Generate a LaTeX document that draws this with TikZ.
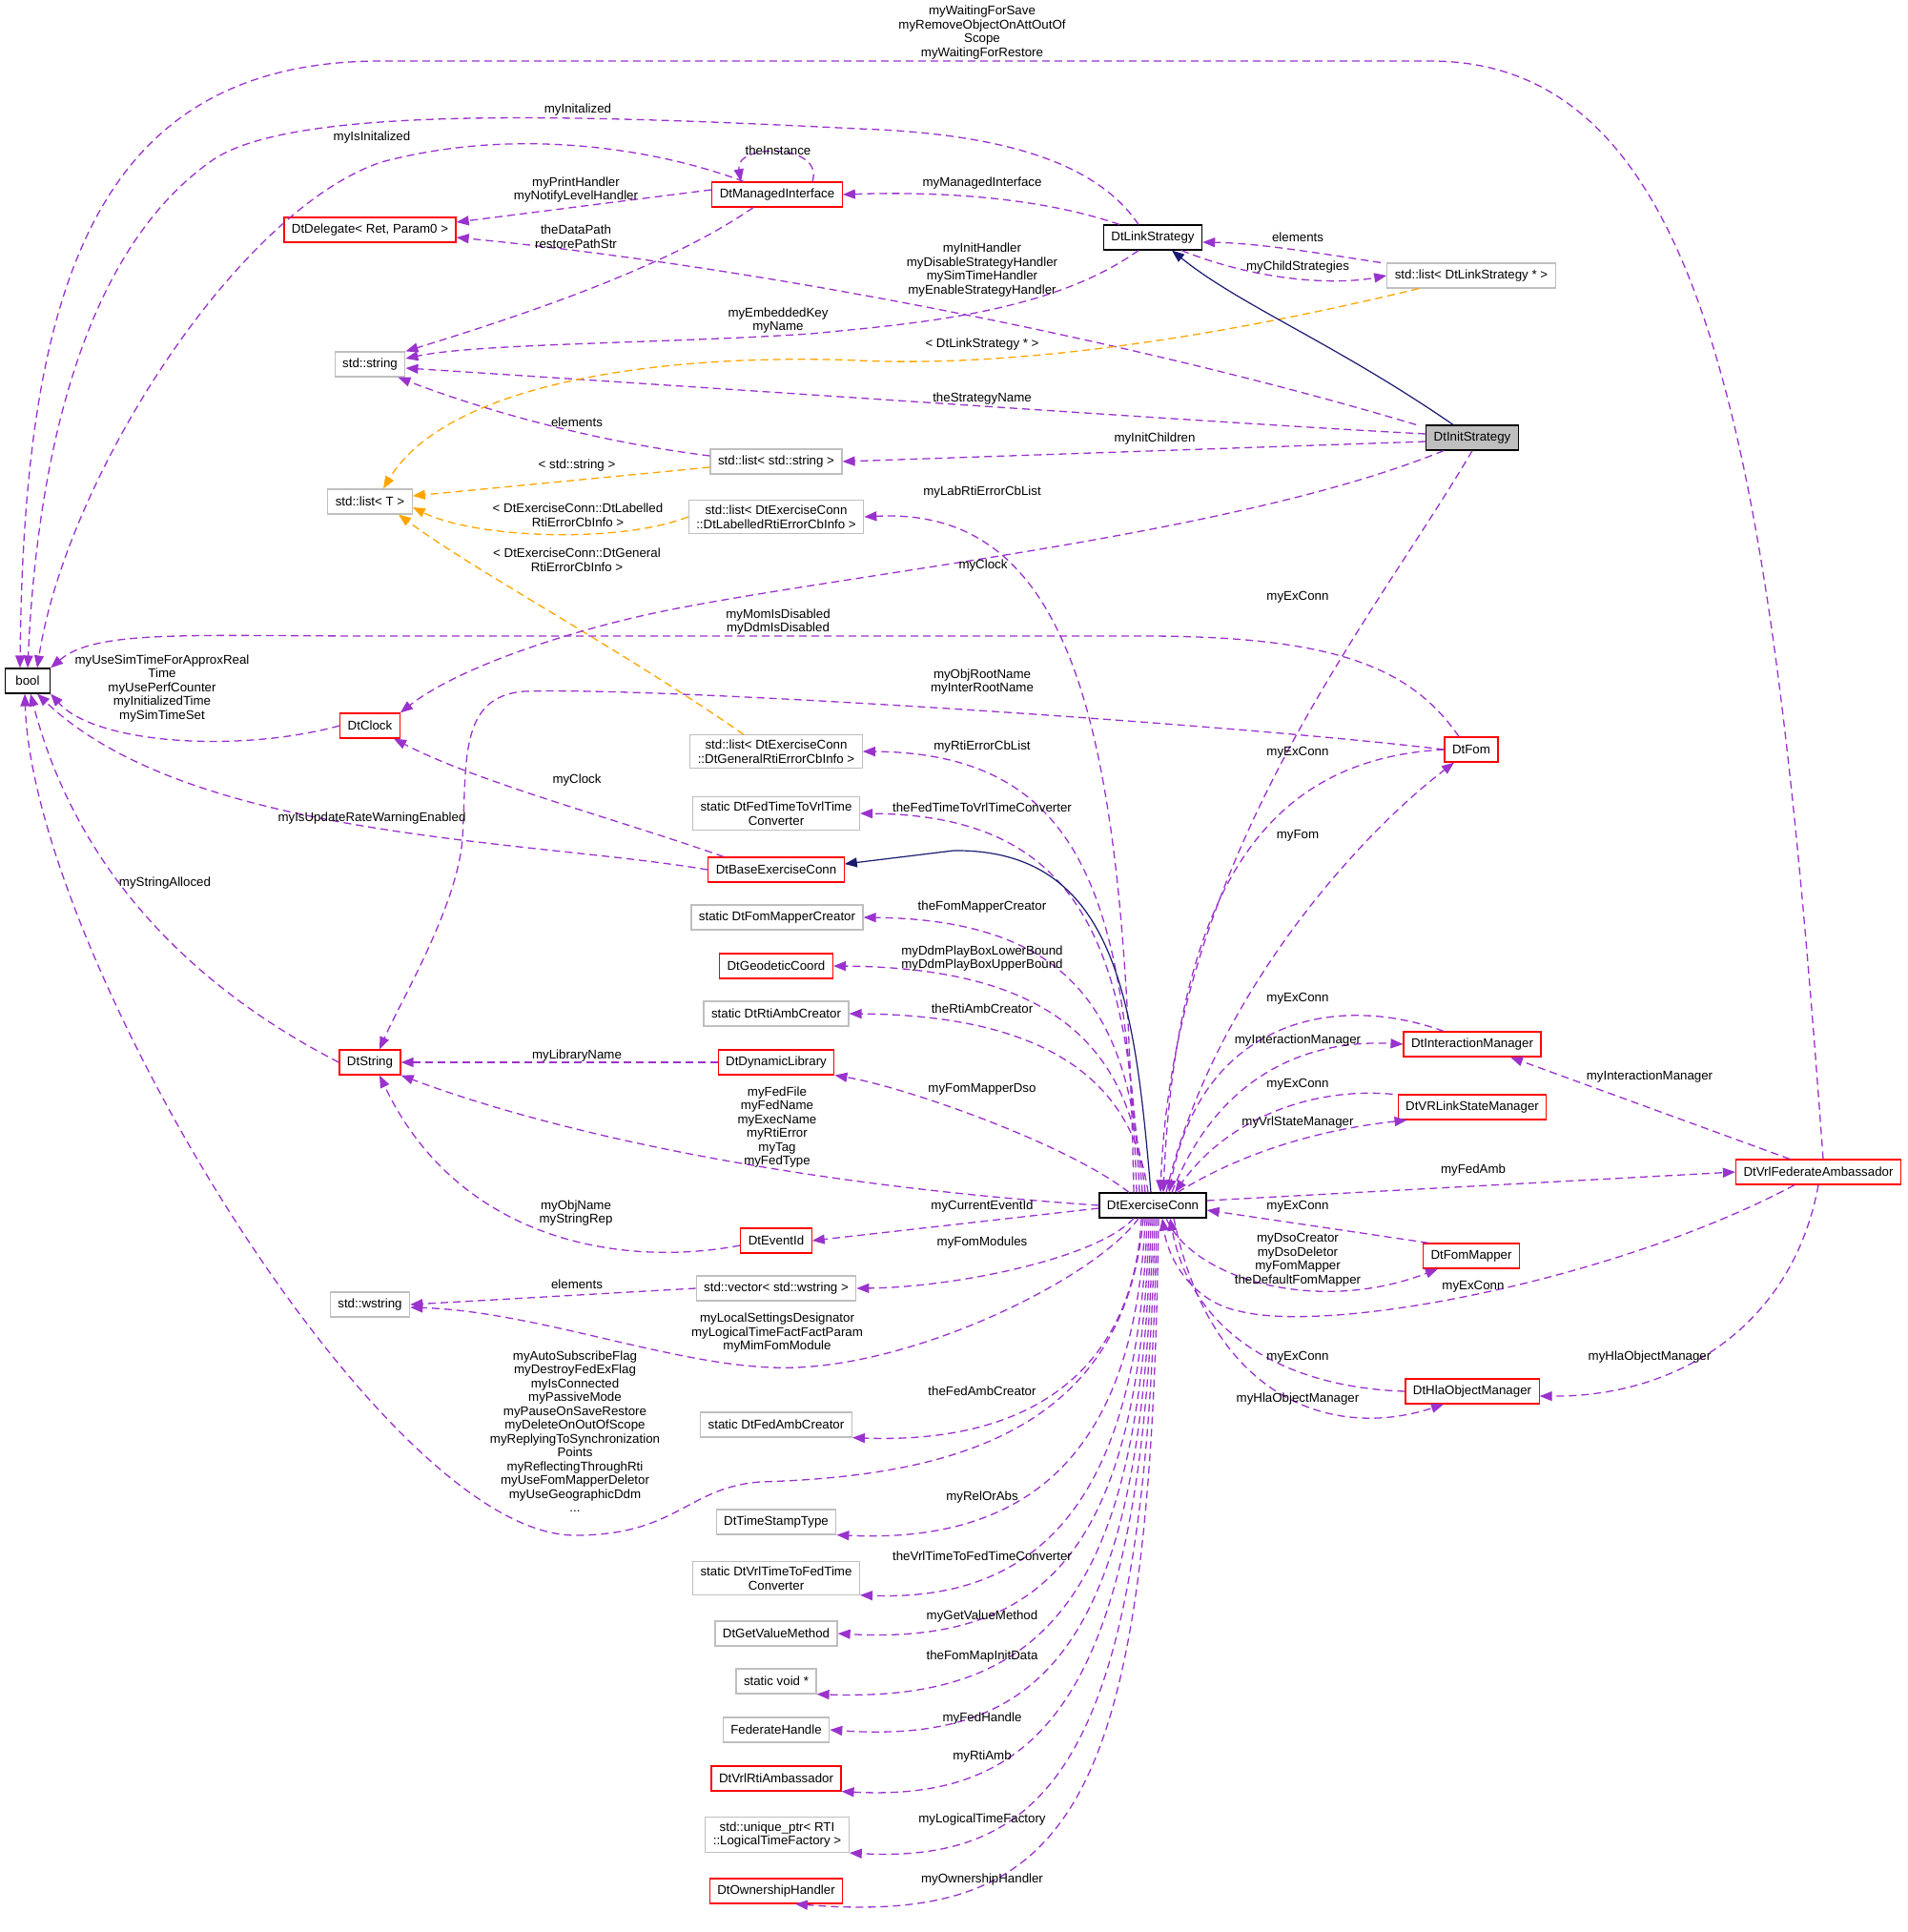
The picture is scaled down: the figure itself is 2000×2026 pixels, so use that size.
\documentclass[tikz,border=0pt]{standalone}
\usepackage{fontspec}
\setmainfont{Liberation Sans}
\usetikzlibrary{arrows.meta}
\definecolor{purp}{HTML}{9A32CD}
\definecolor{orng}{HTML}{FFA500}
\definecolor{navy}{HTML}{191970}
\definecolor{lgray}{HTML}{BFBFBF}
\newcommand{\lf}{\fontsize{13.3}{14.5}\selectfont}
\begin{document}
\begin{tikzpicture}[x=1pt,y=-1pt,
 cls/.style={rectangle,font=\lf,align=center,minimum height=26pt,inner xsep=8pt,inner ysep=5pt,fill=white,line width=1.2pt},
 gry/.style={cls,draw=lgray},
 rd/.style={cls,draw=red},
 blk/.style={cls,draw=black},
 u/.style={draw=purp,dash pattern=on 8pt off 5pt,line width=1.3pt,-{Triangle[length=13pt,width=10pt]}},
 t/.style={u,draw=orng},
 inh/.style={draw=navy,line width=1.2pt,-{Triangle[length=13pt,width=10pt]}},
 lbl/.style={font=\lf,align=center,inner sep=0pt}]
\useasboundingbox (0,0) rectangle (2000,2026);
% nodes
\node[blk,minimum width=47pt,inner xsep=2pt] (bool) at (29,714) {bool};
\node[rd] (dd) at (388,241) {DtDelegate< Ret, Param0 >};
\node[rd] (mi) at (815,204) {DtManagedInterface};
\node[blk] (ls) at (1209,249) {DtLinkStrategy};
\node[gry] (lls) at (1543,289) {std::list< DtLinkStrategy * >};
\node[gry] (str) at (388,382) {std::string};
\node[blk,fill=lgray] (is) at (1544,459) {DtInitStrategy};
\node[gry] (lss) at (814,484) {std::list< std::string >};
\node[gry] (lt) at (388,526) {std::list< T >};
\node[gry] (lab) at (814,542) {std::list< DtExerciseConn\\::DtLabelledRtiErrorCbInfo >};
\node[rd] (clk) at (388,761) {DtClock};
\node[gry] (gen) at (814,788) {std::list< DtExerciseConn\\::DtGeneralRtiErrorCbInfo >};
\node[rd] (fom) at (1543,786) {DtFom};
\node[gry] (f2v) at (814,853) {static DtFedTimeToVrlTime\\Converter};
\node[rd] (bec) at (814,912) {DtBaseExerciseConn};
\node[gry] (fmc) at (815,962) {static DtFomMapperCreator};
\node[rd] (geo) at (814,1013) {DtGeodeticCoord};
\node[gry] (rac) at (814,1063) {static DtRtiAmbCreator};
\node[rd] (dyn) at (814,1114) {DtDynamicLibrary};
\node[rd] (dstr) at (388,1114) {DtString};
\node[rd] (im) at (1544,1095) {DtInteractionManager};
\node[rd] (vrl) at (1544,1161) {DtVRLinkStateManager};
\node[rd] (fa) at (1907,1229) {DtVrlFederateAmbassador};
\node[blk] (ec) at (1209,1264) {DtExerciseConn};
\node[rd] (eid) at (814,1301) {DtEventId};
\node[rd] (fm) at (1543,1317) {DtFomMapper};
\node[gry] (vec) at (814,1351) {std::vector< std::wstring >};
\node[gry] (wstr) at (388,1368) {std::wstring};
\node[rd] (hom) at (1544,1459) {DtHlaObjectManager};
\node[gry] (fac) at (814,1494) {static DtFedAmbCreator};
\node[gry] (tst) at (814,1596) {DtTimeStampType};
\node[gry] (v2f) at (814,1655) {static DtVrlTimeToFedTime\\Converter};
\node[gry] (gvm) at (814,1713) {DtGetValueMethod};
\node[gry] (sv) at (814,1763) {static void *};
\node[gry] (fh) at (814,1814) {FederateHandle};
\node[rd] (vra) at (814,1865) {DtVrlRtiAmbassador};
\node[gry] (up) at (815,1924) {std::unique\_ptr< RTI\\::LogicalTimeFactory >};
\node[rd] (own) at (814,1983) {DtOwnershipHandler};
% edges: top part
\draw[u] ([xshift=5pt]fa.north) .. controls (1860,500) and (1800,64) .. (1500,64) -- (400,64) .. controls (100,64) and (25,300) .. ([xshift=-8pt]bool.north);
\draw[u] ([xshift=-15pt]ls.north) .. controls (1150,170) and (1050,140) .. (900,135) .. controls (600,120) and (300,110) .. (220,170) .. controls (80,270) and (38,500) .. (bool.north);
\draw[u] ([xshift=-35pt]mi.north) .. controls (700,160) and (550,130) .. (400,170) .. controls (250,220) and (70,500) .. ([xshift=10pt]bool.north);
\draw[u] ([xshift=37pt]mi.north) .. controls (865,150) and (770,150) .. ([xshift=-38pt]mi.north);
\draw[u] ([yshift=5pt]mi.west) -- ([yshift=8pt]dd.east);
\draw[u] ([xshift=-10pt]is.north west) .. controls (1200,360) and (800,280) .. ([yshift=-8pt]dd.east);
\draw[u] ([xshift=-25pt]mi.south) .. controls (700,280) and (550,330) .. (str.north east);
\draw[u] ([xshift=-15pt]ls.south) .. controls (1100,330) and (950,340) .. (850,350) .. controls (700,360) and (500,360) .. ([yshift=6pt]str.east);
\draw[u] ([yshift=4pt]is.west) .. controls (1300,445) and (800,410) .. ([yshift=-4pt]str.east);
\draw[u] ([yshift=6pt]lss.west) .. controls (600,460) and (480,420) .. ([xshift=-8pt]str.south east);
\draw[u] ([yshift=-4pt]is.west) -- (lss.east);
\draw[t] ([xshift=-55pt]lls.south) .. controls (1250,360) and (1050,385) .. (900,378) .. controls (700,370) and (470,400) .. ([xshift=14pt]lt.north);
\draw[t] ([yshift=-6pt]lss.west) -- ([yshift=6pt]lt.east);
\draw[t] (lab.west) .. controls (650,570) and (500,565) .. ([yshift=-6pt]lt.east);
\draw[t] ([xshift=-34pt]gen.north) .. controls (650,680) and (500,600) .. ([xshift=30pt]lt.south);
\draw[u] ([xshift=-35pt]ls.north) .. controls (1100,210) and (1000,200) .. (mi.east);
\draw[u] ([xshift=30pt]ls.south) .. controls (1320,295) and (1400,299) .. (lls.west);
\draw[u] ([xshift=-95pt]lls.north) .. controls (1380,265) and (1320,255) .. ([yshift=-5pt]ls.east);
\draw[inh] ([xshift=-20pt]is.north) .. controls (1400,360) and (1300,320) .. ([xshift=20pt]ls.south);
\draw[u] ([xshift=-30pt]is.south) .. controls (1300,560) and (900,600) .. (700,640) .. controls (600,660) and (480,700) .. (clk.north east);
\draw[u] ([xshift=-13pt]fom.north) .. controls (1480,700) and (1400,667) .. (1200,667) -- (400,667) .. controls (200,667) and (100,660) .. (bool.north east);
\draw[u] (fom.west) .. controls (1300,760) and (700,720) .. (550,725) .. controls (480,730) and (490,800) .. (485,879) .. controls (480,950) and (420,1050) .. ([xshift=10pt]dstr.north);
\draw[u] (clk.west) .. controls (250,790) and (100,780) .. (bool.south east);
\draw[u] ([xshift=-55pt]bec.north) .. controls (650,860) and (500,820) .. ([xshift=25pt]clk.south);
\draw[u] (bec.west) .. controls (550,880) and (200,880) .. ([xshift=10pt]bool.south);
\draw[u] (dstr.west) .. controls (250,1060) and (90,950) .. ([xshift=3pt]bool.south);
\draw[u] (dyn.west) -- (dstr.east);
\draw[u] ([yshift=-5pt]eid.west) .. controls (650,1330) and (480,1300) .. ([xshift=10pt]dstr.south);
\draw[u] (vec.west) -- (wstr.east);
% ExerciseConn to left column
\draw[u] ([xshift=-20pt]ec.north) .. controls (1180,800) and (1140,530) .. (lab.east);
\draw[u] ([xshift=-17pt]ec.north) .. controls (1182,950) and (1140,790) .. (gen.east);
\draw[u] ([xshift=-14pt]ec.north) .. controls (1184,1000) and (1140,855) .. (f2v.east);
\draw[u] ([xshift=-11pt]ec.north) .. controls (1186,1080) and (1140,965) .. (fmc.east);
\draw[u] ([xshift=-8pt]ec.north) .. controls (1188,1120) and (1130,1015) .. (geo.east);
\draw[u] ([xshift=-5pt]ec.north) .. controls (1190,1150) and (1120,1065) .. (rac.east);
\draw[u] ([xshift=-25pt]ec.north) .. controls (1120,1200) and (950,1140) .. (dyn.south east);
\draw[u] (ec.west) .. controls (800,1240) and (560,1180) .. (dstr.south east);
\draw[u] ([yshift=-3pt]ec.west) -- (eid.east);
\draw[u] ([xshift=-20pt]ec.south) .. controls (1150,1320) and (1000,1350) .. (vec.east);
\draw[u] ([xshift=-15pt]ec.south) .. controls (1150,1340) and (950,1440) .. (810,1434) .. controls (700,1430) and (560,1375) .. ([yshift=-3pt]wstr.east);
\draw[u] ([xshift=-10pt]ec.south) .. controls (1180,1500) and (1000,1548) .. (797,1554) .. controls (720,1560) and (710,1610) .. (603,1610) .. controls (400,1610) and (35,1000) .. ([xshift=-3pt]bool.south);
\draw[u] ([xshift=-12pt]ec.south) .. controls (1190,1420) and (1100,1515) .. (fac.south east);
\draw[u] ([xshift=-8pt]ec.south) .. controls (1192,1500) and (1100,1620) .. (tst.south east);
\draw[u] ([xshift=-6pt]ec.south) .. controls (1195,1560) and (1100,1680) .. (v2f.south east);
\draw[u] ([xshift=-4pt]ec.south) .. controls (1197,1620) and (1100,1725) .. (gvm.east);
\draw[u] ([xshift=-2pt]ec.south) .. controls (1199,1670) and (1100,1785) .. (sv.south east);
\draw[u] (ec.south) .. controls (1201,1720) and (1100,1830) .. (fh.east);
\draw[u] ([xshift=2pt]ec.south) .. controls (1203,1770) and (1100,1890) .. (vra.south east);
\draw[u] ([xshift=4pt]ec.south) .. controls (1205,1830) and (1110,1955) .. (up.south east);
\draw[u] ([xshift=6pt]ec.south) .. controls (1207,1890) and (1130,2020) .. ([xshift=20pt]own.south);
% right side
\draw[u] (is.south) .. controls (1440,650) and (1230,900) .. ([xshift=8pt]ec.north);
\draw[u] (fom.west) .. controls (1350,795) and (1235,900) .. ([xshift=11pt]ec.north);
\draw[u] ([xshift=14pt]ec.north) .. controls (1270,1050) and (1420,880) .. ([xshift=-18pt]fom.south);
\draw[u] ([xshift=-30pt]im.north) .. controls (1400,1040) and (1260,1070) .. ([xshift=17pt]ec.north);
\draw[u] ([xshift=20pt]ec.north) .. controls (1280,1120) and (1380,1090) .. (im.west);
\draw[u] ([xshift=-5pt]vrl.north west) .. controls (1380,1140) and (1290,1170) .. ([xshift=23pt]ec.north);
\draw[u] ([xshift=26pt]ec.north) .. controls (1300,1210) and (1380,1185) .. ([xshift=10pt]vrl.south west);
\draw[u] ([yshift=5pt]ec.east) -- (fa.west);
\draw[u] ([xshift=-30pt]fa.north) -- ([xshift=40pt]im.south);
\draw[u] ([xshift=-25pt]fa.south) .. controls (1700,1340) and (1400,1400) .. (1300,1375) .. controls (1250,1365) and (1225,1320) .. ([xshift=10pt]ec.south);
\draw[u] (fa.south) .. controls (1880,1390) and (1760,1465) .. ([yshift=-5pt]hom.east);
\draw[u] ([xshift=-45pt]fm.north) -- ([yshift=-5pt]ec.east);
\draw[u] ([xshift=14pt]ec.south) .. controls (1250,1340) and (1380,1380) .. ([xshift=-35pt]fm.south);
\draw[u] (hom.west) .. controls (1350,1455) and (1250,1400) .. ([xshift=18pt]ec.south);
\draw[u] ([xshift=22pt]ec.south) .. controls (1270,1470) and (1400,1510) .. ([xshift=-30pt]hom.south);
\draw[inh] ([xshift=-2pt]ec.north) .. controls (1190,1050) and (1170,890) .. (1000,892) -- ([yshift=6pt]bec.east);
% labels
\node[lbl] (l1) at (1030,34) {myWaitingForSave\\myRemoveObjectOnAttOutOf\\Scope\\myWaitingForRestore};
\node[lbl] (l2) at (606,115) {myInitalized};
\node[lbl] (l3) at (390,144) {myIsInitalized};
\node[lbl] (l4) at (816,158) {theInstance};
\node[lbl] (l5) at (604,199) {myPrintHandler\\myNotifyLevelHandler};
\node[lbl] (l6) at (1030,192) {myManagedInterface};
\node[lbl] (l7) at (604,248) {theDataPath\\restorePathStr};
\node[lbl] (l8) at (1361,249) {elements};
\node[lbl] (l9) at (1361,280) {myChildStrategies};
\node[lbl] (l10) at (1030,283) {myInitHandler\\myDisableStrategyHandler\\mySimTimeHandler\\myEnableStrategyHandler};
\node[lbl] (l11) at (816,336) {myEmbeddedKey\\myName};
\node[lbl] (l12) at (1030,361) {< DtLinkStrategy * >};
\node[lbl] (l13) at (1030,418) {theStrategyName};
\node[lbl] (l14) at (605,443) {elements};
\node[lbl] (l15) at (1211,460) {myInitChildren};
\node[lbl] (l16) at (605,488) {< std::string >};
\node[lbl] (l17) at (1030,516) {myLabRtiErrorCbList};
\node[lbl] (l18) at (606,540) {< DtExerciseConn::DtLabelled\\RtiErrorCbInfo >};
\node[lbl] (l19) at (605,587) {< DtExerciseConn::DtGeneral\\RtiErrorCbInfo >};
\node[lbl] (l20) at (1031,593) {myClock};
\node[lbl] (l21) at (1361,626) {myExConn};
\node[lbl] (l22) at (816,652) {myMomIsDisabled\\myDdmIsDisabled};
\node[lbl] (l23) at (170,722) {myUseSimTimeForApproxReal\\Time\\myUsePerfCounter\\myInitializedTime\\mySimTimeSet};
\node[lbl] (l24) at (1030,715) {myObjRootName\\myInterRootName};
\node[lbl] (l25) at (1030,783) {myRtiErrorCbList};
\node[lbl] (l26) at (1361,789) {myExConn};
\node[lbl] (l27) at (605,818) {myClock};
\node[lbl] (l28) at (1030,847) {theFedTimeToVrlTimeConverter};
\node[lbl] (l29) at (390,858) {myIsUpdateRateWarningEnabled};
\node[lbl] (l30) at (1361,876) {myFom};
\node[lbl] (l31) at (173,926) {myStringAlloced};
\node[lbl] (l32) at (1030,951) {theFomMapperCreator};
\node[lbl] (l33) at (1030,1005) {myDdmPlayBoxLowerBound\\myDdmPlayBoxUpperBound};
\node[lbl] (l34) at (1361,1047) {myExConn};
\node[lbl] (l35) at (1030,1058) {theRtiAmbCreator};
\node[lbl] (l36) at (1361,1091) {myInteractionManager};
\node[lbl] (l37) at (605,1107) {myLibraryName};
\node[lbl] (l38) at (1730,1129) {myInteractionManager};
\node[lbl] (l39) at (1361,1137) {myExConn};
\node[lbl] (l40) at (1030,1142) {myFomMapperDso};
\node[lbl] (l41) at (1361,1177) {myVrlStateManager};
\node[lbl] (l42) at (815,1182) {myFedFile\\myFedName\\myExecName\\myRtiError\\myTag\\myFedType};
\node[lbl] (l43) at (1545,1227) {myFedAmb};
\node[lbl] (l44) at (1030,1265) {myCurrentEventId};
\node[lbl] (l45) at (1361,1265) {myExConn};
\node[lbl] (l46) at (604,1272) {myObjName\\myStringRep};
\node[lbl] (l47) at (1030,1303) {myFomModules};
\node[lbl] (l48) at (1361,1321) {myDsoCreator\\myDsoDeletor\\myFomMapper\\theDefaultFomMapper};
\node[lbl] (l49) at (605,1347) {elements};
\node[lbl] (l50) at (1545,1349) {myExConn};
\node[lbl] (l51) at (815,1398) {myLocalSettingsDesignator\\myLogicalTimeFactFactParam\\myMimFomModule};
\node[lbl] (l52) at (1361,1423) {myExConn};
\node[lbl] (l53) at (1730,1423) {myHlaObjectManager};
\node[lbl] (l54) at (1030,1459) {theFedAmbCreator};
\node[lbl] (l55) at (1361,1467) {myHlaObjectManager};
\node[lbl] (l56) at (603,1501) {myAutoSubscribeFlag\\myDestroyFedExFlag\\myIsConnected\\myPassiveMode\\myPauseOnSaveRestore\\myDeleteOnOutOfScope\\myReplyingToSynchronization\\Points\\myReflectingThroughRti\\myUseFomMapperDeletor\\myUseGeographicDdm\\...};
\node[lbl] (l57) at (1030,1570) {myRelOrAbs};
\node[lbl] (l58) at (1030,1632) {theVrlTimeToFedTimeConverter};
\node[lbl] (l59) at (1030,1695) {myGetValueMethod};
\node[lbl] (l60) at (1030,1737) {theFomMapInitData};
\node[lbl] (l61) at (1030,1802) {myFedHandle};
\node[lbl] (l62) at (1030,1842) {myRtiAmb};
\node[lbl] (l63) at (1030,1908) {myLogicalTimeFactory};
\node[lbl] (l64) at (1030,1971) {myOwnershipHandler};
\end{tikzpicture}
\end{document}
